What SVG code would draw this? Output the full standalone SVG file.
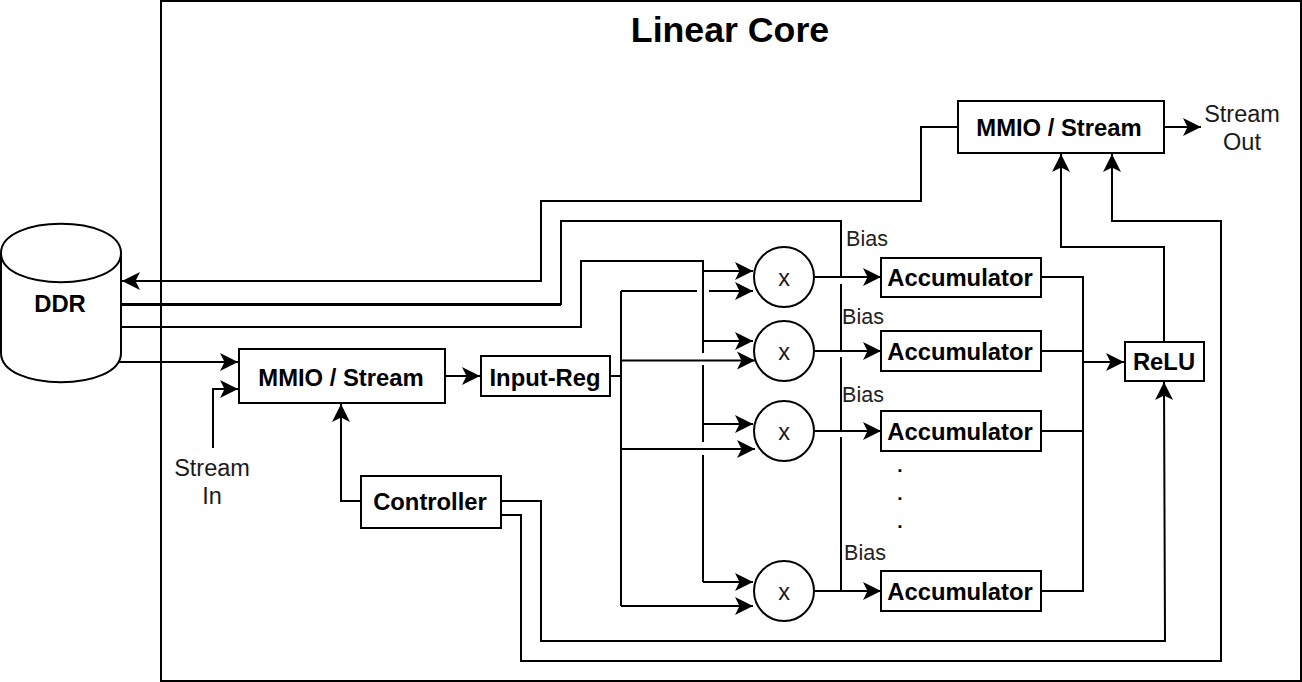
<svg xmlns="http://www.w3.org/2000/svg" width="1302" height="682" viewBox="0 0 1302 682">
<style>
text{font-family:"Liberation Sans",Arial,sans-serif;fill:#000;text-anchor:middle}
.b{font-weight:bold;font-size:23.8px}
.d{font-weight:bold;font-size:19px}
.n{font-size:23.5px;fill:#1a1a1a}
.s{font-size:21.5px;fill:#222}
.box{fill:#fff;stroke:#000;stroke-width:2}
.c{fill:none;stroke:#000;stroke-width:2}
.a{marker-end:url(#ah)}
</style>
<defs>
<marker id="ah" markerUnits="userSpaceOnUse" markerWidth="20" markerHeight="20" refX="18" refY="9" orient="auto" overflow="visible">
<path d="M18 9L0 0L4.500 9L0 18Z" fill="#000"/>
</marker>
</defs>
<g id="linear-core"><rect class="box" x="161" y="1" width="1140" height="680"/><text x="730" y="42" font-size="35.7" font-weight="bold">Linear Core</text></g>
<g id="connectors">
<path class="c a" d="M958 127H921V201H541V281H122"/>
<path class="c" d="M121 304H561V221H841V278M841 284V350M841 357V430M841 437V591"/>
<path class="c" d="M121 305H561" />
<path class="c" d="M121 327H581V261H703V353M703 365V442M703 455V582"/>
<path class="c a" d="M703 271H753"/>
<path class="c a" d="M703 341H753"/>
<path class="c a" d="M703 424H753"/>
<path class="c a" d="M703 582H753"/>
<path class="c" d="M610 376H621M621 291V606"/>
<path class="c" d="M621 291H697"/>
<path class="c a" d="M709 291H753"/>
<path class="c a" d="M621 360.500H755"/>
<path class="c a" d="M621 449H755"/>
<path class="c a" d="M621 606H753"/>
<path class="c a" d="M119 362H238"/>
<path class="c a" d="M213 448V389H238"/>
<path class="c a" d="M445 376H480"/>
<path class="c a" d="M361 501H341V404"/>
<path class="c a" d="M815 277H881"/>
<path class="c a" d="M815 351H881"/>
<path class="c a" d="M815 431H881"/>
<path class="c a" d="M815 591H881"/>
<path class="c" d="M1041 277H1083V591H1041M1041 351H1083M1041 431H1083"/>
<path class="c a" d="M1083 362H1124"/>
<path class="c a" d="M1164 342V247H1061V154"/>
<path class="c a" d="M501 501H541V641H1165L1164 382"/>
<path class="c a" d="M501 515H521V661H1221V221H1112V154"/>
<path class="c a" d="M1165 127H1201"/>
</g>
<g id="ddr">
<path class="box" d="M1 253C1 214 121 214 121 253V353C121 392 1 392 1 353Z"/>
<path class="c" d="M1 253C1 292 121 292 121 253"/>
<text class="b" x="60" y="312">DDR</text>
</g>
<g id="mmio-in"><rect class="box" x="239" y="349" width="206" height="54"/><text class="b" x="341" y="386">MMIO / Stream</text></g>
<g id="input-reg"><rect class="box" x="481" y="356" width="129" height="40"/><text class="b" x="545" y="386">Input-Reg</text></g>
<g id="controller"><rect class="box" x="361" y="476" width="140" height="52"/><text class="b" x="430" y="510">Controller</text></g>
<g id="mmio-out"><rect class="box" x="958" y="101" width="206" height="52"/><text class="b" x="1059" y="136">MMIO / Stream</text></g>
<g id="relu"><rect class="box" x="1125" y="342" width="79" height="39"/><text class="b" x="1164" y="370">ReLU</text></g>
<g id="mul1"><circle class="box" cx="784" cy="277" r="30"/><text class="n" x="784" y="286">x</text></g>
<g id="mul2"><circle class="box" cx="784" cy="351" r="30"/><text class="n" x="784" y="360">x</text></g>
<g id="mul3"><circle class="box" cx="784" cy="431" r="30"/><text class="n" x="784" y="440">x</text></g>
<g id="mul4"><circle class="box" cx="784" cy="591" r="30"/><text class="n" x="784" y="600">x</text></g>
<g id="acc1"><rect class="box" x="881" y="258" width="160" height="39"/><text class="b" x="960" y="286">Accumulator</text></g>
<g id="acc2"><rect class="box" x="881" y="331" width="160" height="40"/><text class="b" x="960" y="360">Accumulator</text></g>
<g id="acc3"><rect class="box" x="881" y="411" width="160" height="40"/><text class="b" x="960" y="440">Accumulator</text></g>
<g id="acc4"><rect class="box" x="881" y="571" width="160" height="40"/><text class="b" x="960" y="600">Accumulator</text></g>
<g id="labels">
<text class="n" x="1242" y="122">Stream</text><text class="n" x="1242" y="150">Out</text>
<text class="n" x="212" y="476">Stream</text><text class="n" x="212" y="504">In</text>
<text class="s" x="867" y="246">Bias</text><text class="s" x="863" y="324">Bias</text><text class="s" x="863" y="402">Bias</text><text class="s" x="865" y="560">Bias</text>
<text class="d" x="900" y="472">.</text><text class="d" x="900" y="500">.</text><text class="d" x="900" y="528">.</text>
</g>
</svg>
